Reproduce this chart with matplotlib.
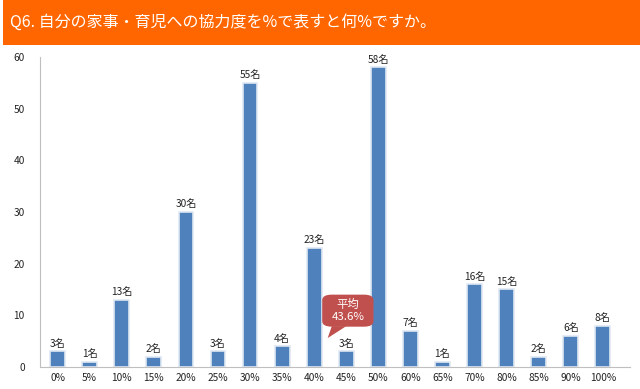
import matplotlib
matplotlib.use("Agg")
import matplotlib.pyplot as plt
from matplotlib.patches import Rectangle, FancyBboxPatch, Polygon

plt.rcParams['font.family'] = ['Noto Sans CJK JP', 'DejaVu Sans']

title = "Q6. 自分の家事・育児への協力度を%で表すと何%ですか。"
categories = ["0%", "5%", "10%", "15%", "20%", "25%", "30%", "35%", "40%",
              "45%", "50%", "60%", "65%", "70%", "80%", "85%", "90%", "100%"]
counts = [3, 1, 13, 2, 30, 3, 55, 4, 23, 3, 58, 7, 1, 16, 15, 2, 6, 8]
avg_text = "平均\n43.6%"

BAR = "#4F81BD"
ORANGE = "#FF6600"
CALLOUT = "#C0504D"

fig = plt.figure(figsize=(6.4, 3.89), dpi=100)
fig.patch.set_facecolor("white")

# orange header band
fig.patches.append(Rectangle((0.005, 0.884), 0.995, 0.116, transform=fig.transFigure,
                             facecolor=ORANGE, edgecolor="none", zorder=0))
fig.text(0.016, 0.942, title, color="white", fontsize=11.5, va="center", ha="left")

ax = fig.add_axes([0.0625, 0.0566, 0.922, 0.797])
x = range(len(categories))
ax.bar(x, counts, width=0.46, color=BAR, edgecolor="#dfe8f3", linewidth=1.2, zorder=2)
for i, v in zip(x, counts):
    ax.annotate(f"{v}名", (i, v), xytext=(0, 2), textcoords="offset points",
                ha="center", va="bottom", fontsize=7.3, color="#222222")

ax.set_xlim(-0.55, len(categories) - 0.15)
ax.set_ylim(0, 60)
ax.set_yticks(range(0, 61, 10))
ax.set_xticks(list(x))
ax.set_xticklabels(categories)
ax.tick_params(axis="both", length=0, labelsize=7.3, colors="#222222")
ax.tick_params(axis="y", pad=11)
ax.tick_params(axis="x", pad=4)
for s in ("top", "right"):
    ax.spines[s].set_visible(False)
for s in ("left", "bottom"):
    ax.spines[s].set_color("#bfbfbf")
    ax.spines[s].set_linewidth(0.8)

# average callout
box = FancyBboxPatch((8.25, 7.8), 1.6, 6.2, boxstyle="round,pad=0,rounding_size=0.3",
                     mutation_aspect=3.5, facecolor=CALLOUT, edgecolor="none", zorder=5)
ax.add_patch(box)
ax.add_patch(Polygon([(8.55, 7.9), (9.0, 7.9), (8.42, 5.6)], closed=True,
                     facecolor=CALLOUT, edgecolor="none", zorder=5))
ax.text(9.05, 10.9, avg_text, color="white", ha="center", va="center",
        fontsize=8.2, linespacing=1.2, zorder=6)

fig.savefig("out.png", dpi=100)
